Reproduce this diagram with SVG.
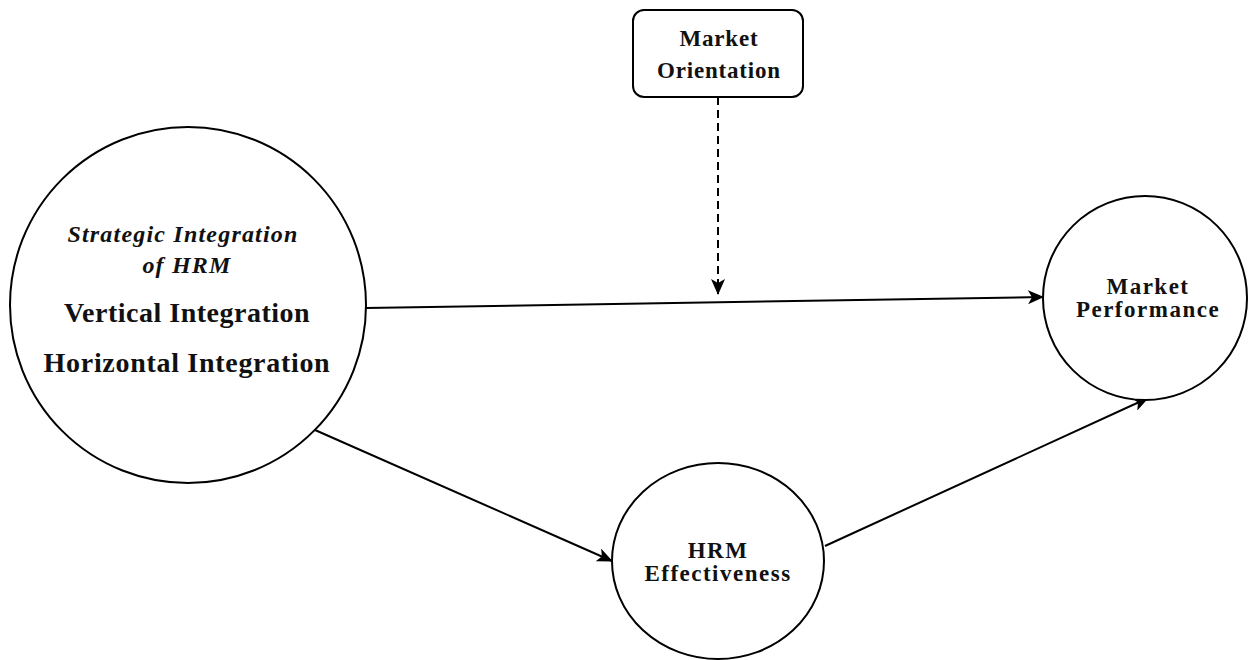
<svg xmlns="http://www.w3.org/2000/svg" width="1249" height="660" viewBox="0 0 1249 660">
<style>
.shape{fill:#fff;stroke:#000;stroke-width:2}
.t{font-family:"Liberation Serif","Times New Roman",serif;font-weight:bold;fill:#111;text-anchor:middle}
.edge{fill:none;stroke:#000;stroke-width:2}
</style>
<defs>
<marker id="arr" markerUnits="userSpaceOnUse" markerWidth="16" markerHeight="14" viewBox="0 0 16 14" refX="15" refY="7" orient="auto">
<path d="M0,0 L16,7 L0,14 L4,7 z" fill="#000"/>
</marker>
</defs>
<rect width="1249" height="660" fill="#fff"/>
<g id="connectors">
<path class="edge" d="M718,97 L718,294" stroke-dasharray="8 5" marker-end="url(#arr)"/>
<path class="edge" d="M366,308 L1043,297" marker-end="url(#arr)"/>
<path class="edge" d="M315,430 L612,561" marker-end="url(#arr)"/>
<path class="edge" d="M825,546 L1148,398" marker-end="url(#arr)"/>
</g>
<g id="strategic">
<circle class="shape" cx="188" cy="305" r="178"/>
<text class="t" x="183" y="242" font-size="24" font-style="italic" font-weight="normal" letter-spacing="1.2">Strategic Integration</text>
<text class="t" x="187" y="273" font-size="24" font-style="italic" font-weight="normal" letter-spacing="1.2">of HRM</text>
<text class="t" x="187" y="322" font-size="28" letter-spacing="0.5">Vertical Integration</text>
<text class="t" x="187" y="372" font-size="28" letter-spacing="0.7">Horizontal Integration</text>
</g>
<g id="market-orientation">
<rect class="shape" x="633" y="10" width="170" height="87" rx="11"/>
<text class="t" x="719" y="46" font-size="23" letter-spacing="0.8">Market</text>
<text class="t" x="719" y="78" font-size="23" letter-spacing="0.8">Orientation</text>
</g>
<g id="market-performance">
<circle class="shape" cx="1145" cy="298" r="102"/>
<text class="t" x="1148" y="294" font-size="23" letter-spacing="1.5">Market</text>
<text class="t" x="1148" y="317" font-size="23" letter-spacing="1.5">Performance</text>
</g>
<g id="hrm-effectiveness">
<ellipse class="shape" cx="718" cy="561" rx="106" ry="98"/>
<text class="t" x="718" y="558" font-size="23" letter-spacing="1.5">HRM</text>
<text class="t" x="718" y="581" font-size="23" letter-spacing="1.5">Effectiveness</text>
</g>
</svg>
